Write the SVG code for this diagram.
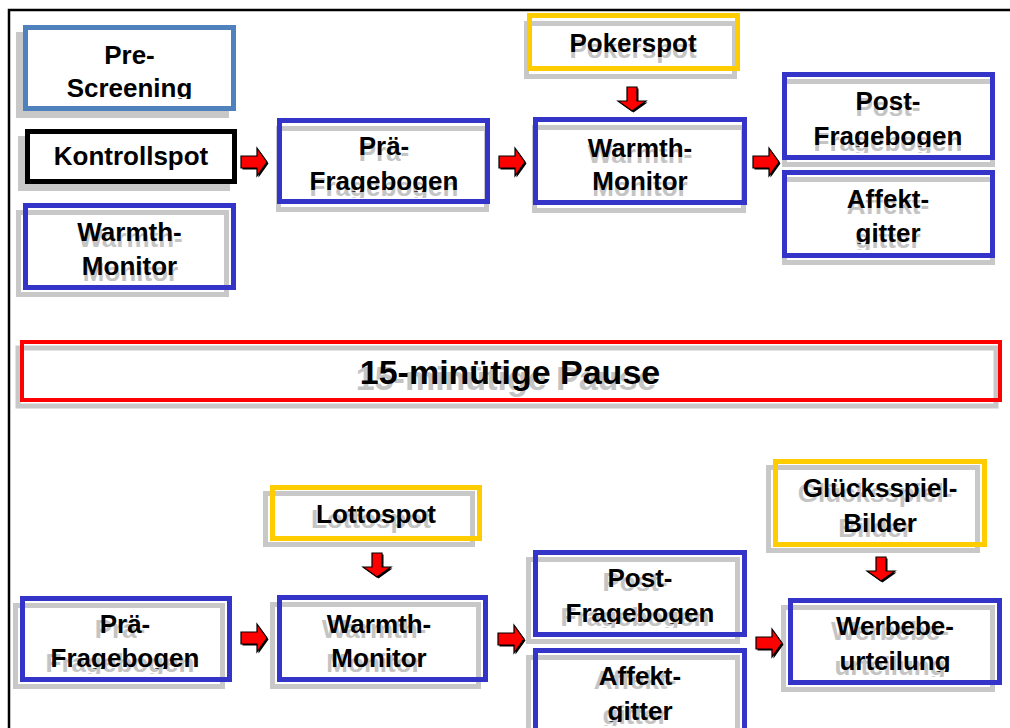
<svg xmlns="http://www.w3.org/2000/svg" xmlns:xlink="http://www.w3.org/1999/xlink" width="1010" height="728" viewBox="0 0 1010 728">
<style>
  text{font-family:"Liberation Sans",Arial,sans-serif;font-weight:bold;font-size:26px;text-anchor:middle;fill:#000}
  text.sh{fill:#c4c4c4}
  .bx{fill:none;stroke-width:5}
  .wf{fill:#fff}
  .blue{stroke:#3434c8}
  .lblue{stroke:#4f81bd}
  .blk{stroke:#000}
  .yel{stroke:#ffcc00}
  .red{stroke:#ff0000;stroke-width:4}
  .shd{fill:none;stroke:#c8c8c8;stroke-width:5}
  .shf{fill:#c8c8c8;stroke:none}
  .arr{fill:#ff0000;stroke:#000;stroke-width:1.2;stroke-linejoin:miter}
  .arrs{fill:#000}
  .frame{stroke:#000;stroke-width:2.5;fill:none}
  .big{font-size:34px}
</style>
<defs>
  <path id="ar" d="M0,-6 H16 V-14 L26,0 L16,14 V6 H0 Z"/>
  <path id="ad" d="M-5,0 V14 H-14 L0,24 L14,14 H5 V0 Z"/>
  <clipPath id="c1"><rect x="0" y="0" width="1010" height="99"/></clipPath>
  <clipPath id="c4"><rect x="0" y="0" width="1010" height="192"/></clipPath>
  <clipPath id="c11"><rect x="0" y="0" width="1010" height="147"/></clipPath>
  <clipPath id="c12"><rect x="0" y="0" width="1010" height="244"/></clipPath>
  <clipPath id="c13"><rect x="0" y="0" width="1010" height="669"/></clipPath>
  <clipPath id="c19"><rect x="0" y="0" width="1010" height="624"/></clipPath>
  <clipPath id="c20"><rect x="0" y="0" width="1010" height="722"/></clipPath>
  <clipPath id="c24"><rect x="0" y="0" width="1010" height="672"/></clipPath>
</defs>

<path class="frame" d="M9,728 V10 H1010"/>

<g id="pre-screening">
  <rect class="shf" x="16" y="32" width="213" height="86"/>
  <rect class="bx wf lblue" x="25.5" y="27.5" width="208" height="81"/>
  <g clip-path="url(#c1)">
    <text x="129.5" y="64">Pre-</text>
    <text x="129.5" y="97">Screening</text>
  </g>
</g>

<g id="kontrollspot">
  <rect class="shf" x="18" y="136" width="212" height="55"/>
  <rect class="bx wf blk" x="27.5" y="131.5" width="207" height="50"/>
  <text x="131" y="165">Kontrollspot</text>
</g>

<g id="warmth-monitor-1">
  <rect class="shd" x="18.5" y="212.5" width="208" height="82"/>
  <rect class="bx blue" x="25.5" y="205.5" width="208" height="82"/>
  <text class="sh" x="130.5" y="247">Warmth-</text>
  <text class="sh" x="130.5" y="281">Monitor</text>
  <text x="129.5" y="241">Warmth-</text>
  <text x="129.5" y="275">Monitor</text>
</g>

<g id="prae-fragebogen-1">
  <rect class="shd" x="278.5" y="128.5" width="208" height="81"/>
  <rect class="bx blue" x="279.5" y="120.5" width="208" height="81"/>
  <g transform="translate(0,6)" clip-path="url(#c4)">
    <text class="sh" x="384" y="155">Prä-</text>
    <text class="sh" x="384" y="190">Fragebogen</text>
  </g>
  <g clip-path="url(#c4)">
    <text x="384" y="155">Prä-</text>
    <text x="384" y="190">Fragebogen</text>
  </g>
</g>

<g id="pokerspot">
  <rect class="shd" x="526.5" y="23.5" width="208" height="53"/>
  <rect class="bx yel" x="529.5" y="15.5" width="208" height="53"/>
  <text class="sh" x="633" y="58">Pokerspot</text>
  <text x="633" y="52">Pokerspot</text>
</g>

<g id="warmth-monitor-2">
  <rect class="shd" x="534.5" y="127.5" width="209" height="83"/>
  <rect class="bx blue" x="535.5" y="119.5" width="209" height="83"/>
  <text class="sh" x="640" y="163">Warmth-</text>
  <text class="sh" x="640" y="196">Monitor</text>
  <text x="640" y="157">Warmth-</text>
  <text x="640" y="190">Monitor</text>
</g>

<g id="post-fragebogen-1">
  <rect class="shd" x="784.5" y="81.5" width="208" height="83"/>
  <rect class="bx blue" x="784.5" y="74.5" width="208" height="83"/>
  <g transform="translate(0,6)" clip-path="url(#c11)">
    <text class="sh" x="888" y="110">Post-</text>
    <text class="sh" x="888" y="145">Fragebogen</text>
  </g>
  <g clip-path="url(#c11)">
    <text x="888" y="110">Post-</text>
    <text x="888" y="145">Fragebogen</text>
  </g>
</g>

<g id="affektgitter-1">
  <rect class="shd" x="784.5" y="179.5" width="208" height="83"/>
  <rect class="bx blue" x="784.5" y="172.5" width="208" height="83"/>
  <g transform="translate(0,6)" clip-path="url(#c12)">
    <text class="sh" x="888" y="208">Affekt-</text>
    <text class="sh" x="888" y="242">gitter</text>
  </g>
  <g clip-path="url(#c12)">
    <text x="888" y="208">Affekt-</text>
    <text x="888" y="242">gitter</text>
  </g>
</g>

<g id="pause">
  <rect class="shd" x="18" y="348" width="978" height="58"/>
  <rect class="bx red" x="22" y="342" width="978" height="58"/>
  <text class="big sh" x="506" y="390">15-minütige Pause</text>
  <text class="big" x="510" y="384">15-minütige Pause</text>
</g>

<g id="prae-fragebogen-2">
  <rect class="shd" x="15.5" y="605.5" width="207" height="81"/>
  <rect class="bx blue" x="22.5" y="598.5" width="207" height="81"/>
  <g transform="translate(-5,5)" clip-path="url(#c13)">
    <text class="sh" x="125" y="633">Prä-</text>
    <text class="sh" x="125" y="667">Fragebogen</text>
  </g>
  <g clip-path="url(#c13)">
    <text x="125" y="633">Prä-</text>
    <text x="125" y="667">Fragebogen</text>
  </g>
</g>

<g id="lottospot">
  <rect class="shd" x="265.5" y="493.5" width="207" height="51"/>
  <rect class="bx yel" x="272.5" y="487.5" width="207" height="51"/>
  <text class="sh" x="371" y="528">Lottospot</text>
  <text x="376" y="523">Lottospot</text>
</g>

<g id="warmth-monitor-3">
  <rect class="shd" x="272.5" y="604.5" width="206" height="82"/>
  <rect class="bx blue" x="279.5" y="597.5" width="206" height="82"/>
  <text class="sh" x="374" y="638">Warmth-</text>
  <text class="sh" x="374" y="672">Monitor</text>
  <text x="379" y="633">Warmth-</text>
  <text x="379" y="667">Monitor</text>
</g>

<g id="post-fragebogen-2">
  <rect class="shd" x="528.5" y="559.5" width="209" height="82"/>
  <rect class="bx blue" x="535.5" y="552.5" width="209" height="82"/>
  <g transform="translate(-5,4)" clip-path="url(#c19)">
    <text class="sh" x="640" y="587">Post-</text>
    <text class="sh" x="640" y="622">Fragebogen</text>
  </g>
  <g clip-path="url(#c19)">
    <text x="640" y="587">Post-</text>
    <text x="640" y="622">Fragebogen</text>
  </g>
</g>

<g id="affektgitter-2">
  <rect class="shd" x="528.5" y="657.5" width="209" height="95"/>
  <rect class="bx blue" x="535.5" y="650.5" width="209" height="95"/>
  <g transform="translate(-5,4)" clip-path="url(#c20)">
    <text class="sh" x="640" y="685">Affekt-</text>
    <text class="sh" x="640" y="720">gitter</text>
  </g>
  <g clip-path="url(#c20)">
    <text x="640" y="685">Affekt-</text>
    <text x="640" y="720">gitter</text>
  </g>
</g>

<g id="gluecksspiel-bilder">
  <rect class="shd" x="768.5" y="467.5" width="209" height="83"/>
  <rect class="bx yel" x="775.5" y="461.5" width="209" height="83"/>
  <text class="sh" x="875" y="502">Glücksspiel-</text>
  <text class="sh" x="875" y="537">Bilder</text>
  <text x="880" y="497">Glücksspiel-</text>
  <text x="880" y="532">Bilder</text>
</g>

<g id="werbebeurteilung">
  <rect class="shd" x="783.5" y="607.5" width="209" height="82"/>
  <rect class="bx blue" x="790.5" y="600.5" width="209" height="82"/>
  <g transform="translate(-5,5)" clip-path="url(#c24)">
    <text class="sh" x="895" y="635">Werbebe-</text>
    <text class="sh" x="895" y="670">urteilung</text>
  </g>
  <g clip-path="url(#c24)">
    <text x="895" y="635">Werbebe-</text>
    <text x="895" y="670">urteilung</text>
  </g>
</g>

<g id="connectors">
  <use xlink:href="#ar" class="arrs" transform="translate(242.5,163.5)"/>
  <use xlink:href="#ar" class="arr" transform="translate(241,162)"/>
  <use xlink:href="#ar" class="arrs" transform="translate(500.5,163.5)"/>
  <use xlink:href="#ar" class="arr" transform="translate(499,162)"/>
  <use xlink:href="#ar" class="arrs" transform="translate(754.5,163.5)"/>
  <use xlink:href="#ar" class="arr" transform="translate(753,162)"/>
  <use xlink:href="#ad" class="arrs" transform="translate(633.5,88.5)"/>
  <use xlink:href="#ad" class="arr" transform="translate(632,87)"/>
  <use xlink:href="#ar" class="arrs" transform="translate(242.5,639.5)"/>
  <use xlink:href="#ar" class="arr" transform="translate(241,638)"/>
  <use xlink:href="#ar" class="arrs" transform="translate(499.5,640.5)"/>
  <use xlink:href="#ar" class="arr" transform="translate(498,639)"/>
  <use xlink:href="#ar" class="arrs" transform="translate(757.5,644.5)"/>
  <use xlink:href="#ar" class="arr" transform="translate(756,643)"/>
  <use xlink:href="#ad" class="arrs" transform="translate(378.5,554.5)"/>
  <use xlink:href="#ad" class="arr" transform="translate(377,553)"/>
  <use xlink:href="#ad" class="arrs" transform="translate(882.5,558.5)"/>
  <use xlink:href="#ad" class="arr" transform="translate(881,557)"/>
</g>
</svg>
